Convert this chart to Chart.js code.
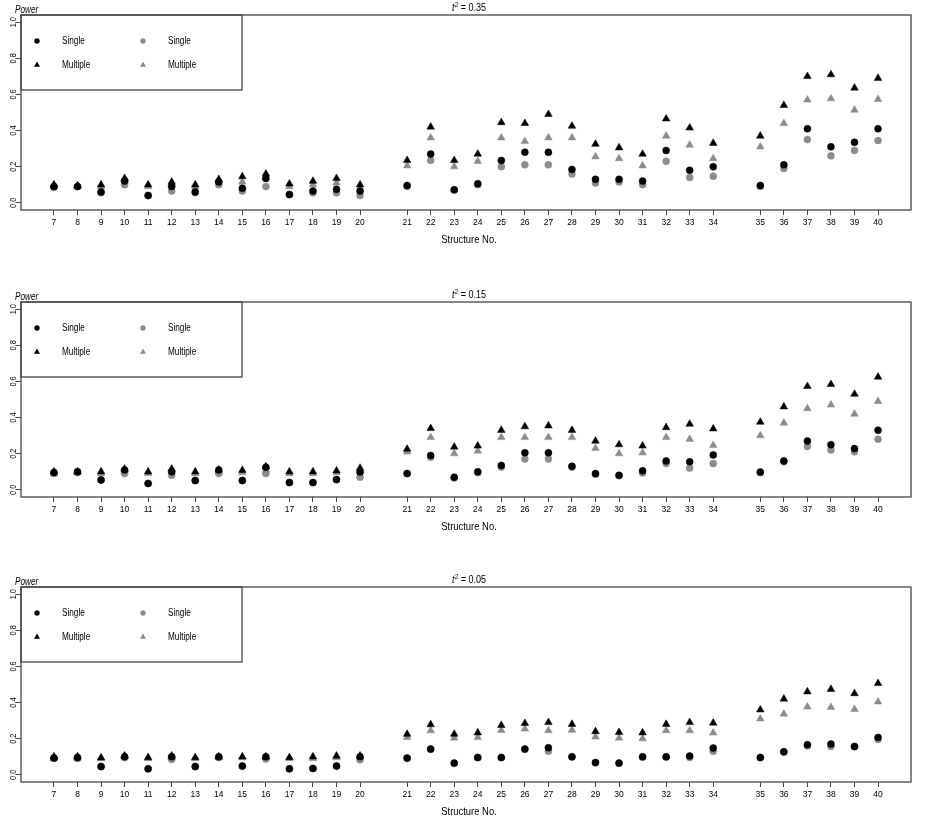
<!DOCTYPE html>
<html>
<head>
<meta charset="utf-8">
<script src="https://cdn.jsdelivr.net/npm/chart.js@4.4.1/dist/chart.umd.min.js"></script>
<style>
html, body { margin: 0; padding: 0; background: #fff; }
#wrap { position: relative; width: 933px; height: 825px; }
.panel { position: absolute; left: 0; width: 933px; height: 250px; }
</style>
</head>
<body>
<div id="wrap">
  <div class="panel" style="top:0px"><canvas id="c1"></canvas></div>
  <div class="panel" style="top:287px"><canvas id="c2"></canvas></div>
  <div class="panel" style="top:572px"><canvas id="c3"></canvas></div>
</div>
<script>
// structure numbers on the x axis (gaps after 20 and 34)
const structures = [7, 8, 9, 10, 11, 12, 13, 14, 15, 16, 17, 18, 19, 20,
                    21, 22, 23, 24, 25, 26, 27, 28, 29, 30, 31, 32, 33, 34,
                    35, 36, 37, 38, 39, 40];
const yTicks = [0, 0.2, 0.4, 0.6, 0.8, 1.0];
const tauValues = ['0.35', '0.15', '0.05'];

// t^2 = 0.35
const single35 = [0.09, 0.09, 0.06, 0.12, 0.04, 0.09, 0.06, 0.115, 0.08, 0.135, 0.046, 0.065, 0.075, 0.065,
                  0.096, 0.27, 0.072, 0.106, 0.234, 0.28, 0.28, 0.185, 0.13, 0.13, 0.12, 0.29, 0.18, 0.20,
                  0.096, 0.21, 0.41, 0.31, 0.335, 0.41];
const multiple35 = [0.10, 0.095, 0.10, 0.135, 0.10, 0.115, 0.10, 0.13, 0.145, 0.16, 0.105, 0.12, 0.135, 0.10,
                    0.235, 0.42, 0.235, 0.27, 0.445, 0.44, 0.49, 0.425, 0.325, 0.305, 0.27, 0.465, 0.415, 0.33,
                    0.37, 0.54, 0.70, 0.71, 0.636, 0.69];
const singleGray35 = [0.085, 0.09, 0.055, 0.10, 0.04, 0.065, 0.055, 0.10, 0.065, 0.09, 0.045, 0.055, 0.055, 0.04,
                      0.09, 0.235, 0.07, 0.10, 0.20, 0.21, 0.21, 0.16, 0.11, 0.115, 0.10, 0.23, 0.14, 0.147,
                      0.09, 0.19, 0.35, 0.26, 0.29, 0.345];
const multipleGray35 = [0.09, 0.09, 0.09, 0.12, 0.09, 0.10, 0.09, 0.12, 0.115, 0.14, 0.09, 0.10, 0.11, 0.08,
                        0.205, 0.36, 0.20, 0.23, 0.36, 0.34, 0.36, 0.36, 0.255, 0.245, 0.205, 0.37, 0.32, 0.245,
                        0.31, 0.44, 0.57, 0.577, 0.514, 0.573];

// t^2 = 0.15
const single15 = [0.096, 0.10, 0.054, 0.11, 0.035, 0.10, 0.052, 0.11, 0.052, 0.125, 0.04, 0.04, 0.057, 0.098,
                  0.09, 0.19, 0.07, 0.10, 0.135, 0.205, 0.205, 0.13, 0.09, 0.08, 0.105, 0.16, 0.155, 0.193,
                  0.098, 0.16, 0.27, 0.25, 0.228, 0.33];
const multiple15 = [0.10, 0.10, 0.10, 0.115, 0.10, 0.115, 0.10, 0.11, 0.108, 0.128, 0.10, 0.10, 0.105, 0.12,
                    0.225, 0.34, 0.237, 0.243, 0.33, 0.35, 0.355, 0.33, 0.27, 0.25, 0.243, 0.345, 0.364, 0.338,
                    0.375, 0.46, 0.573, 0.584, 0.53, 0.625];
const singleGray15 = [0.09, 0.095, 0.055, 0.09, 0.035, 0.08, 0.05, 0.09, 0.05, 0.09, 0.04, 0.04, 0.055, 0.07,
                      0.09, 0.18, 0.065, 0.095, 0.125, 0.17, 0.17, 0.125, 0.085, 0.078, 0.093, 0.145, 0.12, 0.145,
                      0.095, 0.155, 0.24, 0.22, 0.21, 0.28];
const multipleGray15 = [0.09, 0.095, 0.09, 0.10, 0.09, 0.10, 0.09, 0.10, 0.095, 0.11, 0.09, 0.09, 0.095, 0.10,
                        0.21, 0.29, 0.20, 0.215, 0.29, 0.29, 0.29, 0.29, 0.23, 0.20, 0.205, 0.29, 0.28, 0.247,
                        0.30, 0.37, 0.45, 0.47, 0.42, 0.49];

// t^2 = 0.05
const single05 = [0.093, 0.096, 0.046, 0.10, 0.033, 0.10, 0.046, 0.10, 0.048, 0.10, 0.033, 0.035, 0.048, 0.10,
                  0.093, 0.143, 0.065, 0.096, 0.096, 0.143, 0.15, 0.10, 0.068, 0.065, 0.10, 0.10, 0.104, 0.148,
                  0.096, 0.128, 0.167, 0.17, 0.157, 0.207];
const multiple05 = [0.10, 0.10, 0.094, 0.105, 0.096, 0.105, 0.096, 0.10, 0.10, 0.10, 0.096, 0.10, 0.104, 0.105,
                    0.225, 0.278, 0.225, 0.233, 0.274, 0.285, 0.29, 0.28, 0.24, 0.235, 0.233, 0.28, 0.29, 0.287,
                    0.36, 0.42, 0.46, 0.474, 0.45, 0.506];
const singleGray05 = [0.09, 0.09, 0.045, 0.095, 0.033, 0.085, 0.045, 0.095, 0.048, 0.087, 0.033, 0.035, 0.048, 0.083,
                      0.09, 0.14, 0.063, 0.095, 0.095, 0.14, 0.13, 0.098, 0.066, 0.063, 0.097, 0.097, 0.096, 0.13,
                      0.095, 0.125, 0.16, 0.157, 0.155, 0.196];
const multipleGray05 = [0.09, 0.09, 0.09, 0.10, 0.09, 0.095, 0.09, 0.095, 0.095, 0.095, 0.09, 0.09, 0.095, 0.095,
                        0.207, 0.245, 0.204, 0.207, 0.246, 0.254, 0.245, 0.248, 0.21, 0.204, 0.20, 0.245, 0.245, 0.232,
                        0.31, 0.337, 0.376, 0.374, 0.363, 0.404];

const BLACK = '#000000';
const GRAY = '#8c8c8c';
const FRAME = '#454545';
const SANS = "'Liberation Sans', Arial, sans-serif";
const SQUEEZE = 0.82;   // the original uses a condensed face

// slot on the axis: one empty slot after 20 and after 34
function slotOf(s) { return s <= 20 ? s - 7 : (s <= 34 ? s - 6 : s - 5); }
const slots = structures.map(slotOf);
const labelAt = {};
structures.forEach((s, i) => { labelAt[slots[i]] = String(s); });

function pts(values) { return values.map((v, i) => ({ x: slots[i], y: v })); }

function dataset(label, values, color, style, r) {
    return {
        label, data: pts(values), showLine: false,
        pointStyle: style, pointRadius: r, pointHoverRadius: r,
        backgroundColor: color, borderColor: color, borderWidth: 0.5
    };
}

// condensed text: squeeze along the writing direction
function narrowText(ctx, text, x, y, rot) {
    ctx.save();
    ctx.translate(x, y);
    if (rot) ctx.rotate(rot);
    ctx.scale(SQUEEZE, 1);
    ctx.fillText(text, 0, 0);
    ctx.restore();
}

// box, legend, titles, y labels drawn on top
const framePlugin = {
    id: 'frame',
    afterDraw(chart, args, opts) {
        const { ctx, chartArea: a } = chart;
        const ys = chart.scales.y;
        ctx.save();
        ctx.strokeStyle = FRAME;
        ctx.lineWidth = 1.3;
        ctx.strokeRect(a.left, a.top, a.right - a.left, a.bottom - a.top);
        // legend
        ctx.strokeRect(a.left, a.top, 221, 75);
        const items = [
            { x: 37, y: 26, c: BLACK, s: 'circle', r: 2.7, t: 'Single' },
            { x: 37, y: 50, c: BLACK, s: 'triangle', r: 3.5, t: 'Multiple' },
            { x: 143, y: 26, c: GRAY, s: 'circle', r: 2.7, t: 'Single' },
            { x: 143, y: 50, c: GRAY, s: 'triangle', r: 3.5, t: 'Multiple' }
        ];
        ctx.font = '10px ' + SANS;
        ctx.textBaseline = 'middle';
        ctx.textAlign = 'left';
        items.forEach(it => {
            ctx.fillStyle = it.c;
            Chart.helpers.drawPoint(ctx, { pointStyle: it.s, radius: it.r, borderWidth: 0 }, it.x, a.top + it.y);
            ctx.fillStyle = '#000';
            narrowText(ctx, it.t, it.x + 25, a.top + it.y + 0.5);
        });
        // "Power"
        ctx.font = 'italic 10px ' + SANS;
        ctx.textBaseline = 'alphabetic';
        narrowText(ctx, 'Power', 15, a.top - 2);
        // title t^2 = value
        const f1 = 'italic 11px ' + SANS, f2 = '7.5px ' + SANS, f3 = '11px ' + SANS;
        ctx.font = f1; const w1 = (ctx.measureText('t').width + 0.5) * SQUEEZE;
        ctx.font = f2; const w2 = ctx.measureText('2').width * SQUEEZE;
        const rest = ' = ' + opts.value;
        ctx.font = f3; const w3 = ctx.measureText(rest).width * SQUEEZE;
        let x = (a.left + a.right) / 2 + 3 - (w1 + w2 + w3) / 2;
        const base = a.top - 4;
        ctx.font = f1; narrowText(ctx, 't', x, base); x += w1;
        ctx.font = f2; narrowText(ctx, '2', x, base - 4); x += w2;
        ctx.font = f3; narrowText(ctx, rest, x, base);
        // x axis title
        ctx.font = '11.5px ' + SANS;
        ctx.textAlign = 'center';
        ctx.textBaseline = 'middle';
        narrowText(ctx, 'Structure No.', (a.left + a.right) / 2 + 3, a.bottom + 30);
        // rotated y tick labels
        ctx.font = '9px ' + SANS;
        ctx.textBaseline = 'alphabetic';
        yTicks.forEach(v => {
            narrowText(ctx, v.toFixed(1), 15.5, ys.getPixelForValue(v), -Math.PI / 2);
        });
        ctx.restore();
    }
};

function makePanel(id, tau, s, m, sg, mg) {
    return new Chart(document.getElementById(id), {
        type: 'scatter',
        data: {
            datasets: [
                dataset('Single', s, BLACK, 'circle', 3.5),
                dataset('Multiple', m, BLACK, 'triangle', 4.4),
                dataset('Single', sg, GRAY, 'circle', 3.5),
                dataset('Multiple', mg, GRAY, 'triangle', 4.4)
            ]
        },
        options: {
            responsive: true,
            maintainAspectRatio: false,
            animation: false,
            layout: { padding: { top: 15, right: 22, left: 0, bottom: 0 } },
            plugins: {
                legend: { display: false },
                tooltip: { enabled: false },
                frame: { value: tau }
            },
            scales: {
                x: {
                    type: 'linear', min: -1.4, max: 36.4,
                    afterBuildTicks: sc => { sc.ticks = slots.map(v => ({ value: v })); },
                    afterFit: sc => { sc.height = 40; },
                    border: { display: false },
                    grid: { drawOnChartArea: false, drawTicks: true, tickLength: 5, color: FRAME, lineWidth: 1 },
                    ticks: {
                        autoSkip: false, maxRotation: 0, minRotation: 0, padding: 3,
                        color: '#000', font: { family: SANS, size: 8.5 },
                        callback: v => labelAt[v]
                    }
                },
                y: {
                    min: -0.04, max: 1.04,
                    afterBuildTicks: sc => { sc.ticks = yTicks.map(v => ({ value: v })); },
                    afterFit: sc => { sc.width = 21; },
                    border: { display: false },
                    grid: { drawOnChartArea: false, drawTicks: true, tickLength: 5, color: FRAME, lineWidth: 1 },
                    ticks: { display: false }
                }
            }
        },
        plugins: [framePlugin]
    });
}

makePanel('c1', tauValues[0], single35, multiple35, singleGray35, multipleGray35);
makePanel('c2', tauValues[1], single15, multiple15, singleGray15, multipleGray15);
makePanel('c3', tauValues[2], single05, multiple05, singleGray05, multipleGray05);
</script>
</body>
</html>
